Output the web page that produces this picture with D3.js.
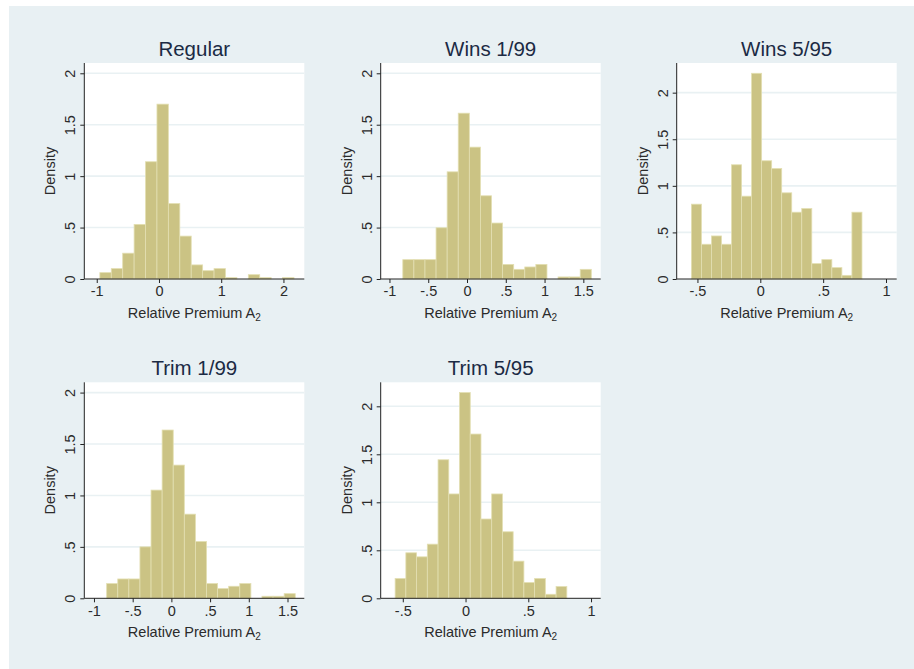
<!DOCTYPE html>
<html>
<head>
<meta charset="utf-8">
<script src="https://cdn.jsdelivr.net/npm/d3@7"></script>
<style>
  html, body { margin: 0; padding: 0; background: #ffffff; }
  svg { display: block; font-family: "Liberation Sans", Arial, sans-serif; }
</style>
</head>
<body>
<svg id="chart" width="914" height="669"></svg>
<script>
// Histogram densities of the relative premium under each treatment of outliers
const panelTitles = ["Regular", "Wins 1/99", "Wins 5/95", "Trim 1/99", "Trim 5/95"];

// left edge of first bin and bin width for each panel
const binStarts = [-0.95, -0.828, -0.548, -0.836, -0.561];
const binWidths = [0.1835, 0.143, 0.0798, 0.1433, 0.0855];

const densRegular = [0.062, 0.101, 0.251, 0.531, 1.140, 1.700, 0.733, 0.417, 0.137, 0.081, 0.101, 0.013, 0, 0.042, 0.013, 0, 0.013];
const densWins199 = [0.188, 0.188, 0.188, 0.498, 1.042, 1.612, 1.282, 0.809, 0.544, 0.142, 0.094, 0.117, 0.142, 0, 0.02, 0.02, 0.094];
const densWins595 = [0.803, 0.373, 0.462, 0.373, 1.226, 0.889, 2.208, 1.269, 1.186, 0.925, 0.717, 0.756, 0.165, 0.208, 0.122, 0.039, 0.717];
const densTrim199 = [0.143, 0.188, 0.188, 0.500, 1.052, 1.636, 1.295, 0.818, 0.552, 0.143, 0.094, 0.117, 0.143, 0, 0.02, 0.02, 0.045];
const densTrim595 = [0.206, 0.474, 0.432, 0.564, 1.443, 1.087, 2.143, 1.711, 0.826, 1.087, 0.693, 0.387, 0.164, 0.206, 0.042, 0.122];
const densities = [densRegular, densWins199, densWins595, densTrim199, densTrim595];

const xTicksWide = [-1, 0, 1, 2];
const xTicksMid = [-1, -0.5, 0, 0.5, 1, 1.5];
const xTicksNarrow = [-0.5, 0, 0.5, 1];
const xTickSets = [xTicksWide, xTicksMid, xTicksNarrow, xTicksMid, xTicksNarrow];
const yTicks = [0, 0.5, 1, 1.5, 2];

const yLabel = "Density";
const xLabel = "Relative Premium A";
const xLabelSub = "2";

// ---- layout ----
const xDomains = [[-1.2, 2.335], [-1.113, 1.724], [-0.665, 1.085], [-1.125, 1.717], [-0.676, 1.077]];
const colLeft = [84.3, 380.7, 676.7];
const rowTop = [63, 382.3];
const plotW = 220, plotH = 216;

const bgColor = "#e8f0f3";
const barFill = "#cbc384";
const barStroke = "#e3dfb2";
const gridColor = "#e9f1f3";
const axisColor = "#222";
const textColor = "#2b2b2b";
const titleColor = "#1b2a44";

// Stata-style number format: no leading zero
const fmt = v => {
  if (v === 0) return "0";
  let s = String(v);
  return s.replace(/^(-?)0\./, "$1.");
};

const svg = d3.select("#chart");
svg.append("rect").attr("x", 9).attr("y", 6).attr("width", 914 - 9).attr("height", 669 - 6).attr("fill", bgColor);

panelTitles.forEach((title, i) => {
  const col = i % 3, row = Math.floor(i / 3);
  const left = colLeft[col], top = rowTop[row];
  const dens = densities[i];
  const yMax = Math.max(2, d3.max(dens)) * 1.05;

  const x = d3.scaleLinear().domain(xDomains[i]).range([0, plotW]);
  const y = d3.scaleLinear().domain([0, yMax]).range([plotH, 0]);

  const g = svg.append("g").attr("transform", `translate(${left},${top})`);

  g.append("rect").attr("width", plotW).attr("height", plotH).attr("fill", "#ffffff");

  // horizontal grid lines
  g.append("g").selectAll("line").data(yTicks.filter(t => t > 0)).join("line")
    .attr("x1", 0).attr("x2", plotW)
    .attr("y1", d => y(d)).attr("y2", d => y(d))
    .attr("stroke", gridColor).attr("stroke-width", 1.6);

  // bars
  const bins = dens.map((d, k) => ({ x0: binStarts[i] + k * binWidths[i], x1: binStarts[i] + (k + 1) * binWidths[i], d }));
  g.append("g").selectAll("rect").data(bins.filter(b => b.d > 0)).join("rect")
    .attr("x", b => x(b.x0))
    .attr("width", b => x(b.x1) - x(b.x0))
    .attr("y", b => y(b.d))
    .attr("height", b => y(0) - y(b.d))
    .attr("fill", barFill)
    .attr("stroke", barStroke)
    .attr("stroke-width", 0.8);

  // y axis
  const yAxis = d3.axisLeft(y).tickValues(yTicks).tickFormat(fmt).tickSize(4).tickPadding(10);
  const ya = g.append("g").call(yAxis);
  ya.select(".domain").attr("d", `M0,0V${plotH}`).attr("stroke", axisColor);
  ya.selectAll(".tick line").attr("stroke", axisColor);
  ya.selectAll(".tick text")
    .attr("transform", d => `rotate(-90, -14, ${y(d)})`)
    .attr("x", -14).attr("y", y => 0).attr("dy", null)
    .attr("text-anchor", "middle")
    .attr("dominant-baseline", "central")
    .style("font-size", "14.5px").style("font-family", "Liberation Sans, Arial, sans-serif")
    .attr("fill", textColor);
  ya.selectAll(".tick text").each(function(d) {
    d3.select(this).attr("transform", `rotate(-90) translate(0,0)`)
      .attr("x", 0).attr("y", -14);
  });

  // x axis
  const xAxis = d3.axisBottom(x).tickValues(xTickSets[i]).tickFormat(fmt).tickSize(4).tickPadding(3);
  const xa = g.append("g").attr("transform", `translate(0,${plotH})`).call(xAxis);
  xa.select(".domain").attr("d", `M0,0H${plotW}`).attr("stroke", axisColor);
  xa.selectAll(".tick line").attr("stroke", axisColor);
  xa.selectAll(".tick text")
    .style("font-size", "14.5px").style("font-family", "Liberation Sans, Arial, sans-serif")
    .attr("fill", textColor);

  // titles
  g.append("text").attr("x", plotW / 2).attr("y", -7)
    .attr("text-anchor", "middle")
    .style("font-size", "20.5px")
    .attr("fill", titleColor)
    .text(title);

  g.append("text")
    .attr("transform", `translate(${-34},${plotH / 2}) rotate(-90)`)
    .attr("text-anchor", "middle")
    .attr("dominant-baseline", "central")
    .style("font-size", "14.5px")
    .attr("fill", textColor)
    .text(yLabel);

  const xt = g.append("text").attr("x", plotW / 2).attr("y", plotH + 39)
    .attr("text-anchor", "middle")
    .style("font-size", "14.5px")
    .attr("fill", textColor);
  xt.append("tspan").text(xLabel);
  xt.append("tspan").attr("dy", 3).style("font-size", "10px").text(xLabelSub);
});
</script>
</body>
</html>
